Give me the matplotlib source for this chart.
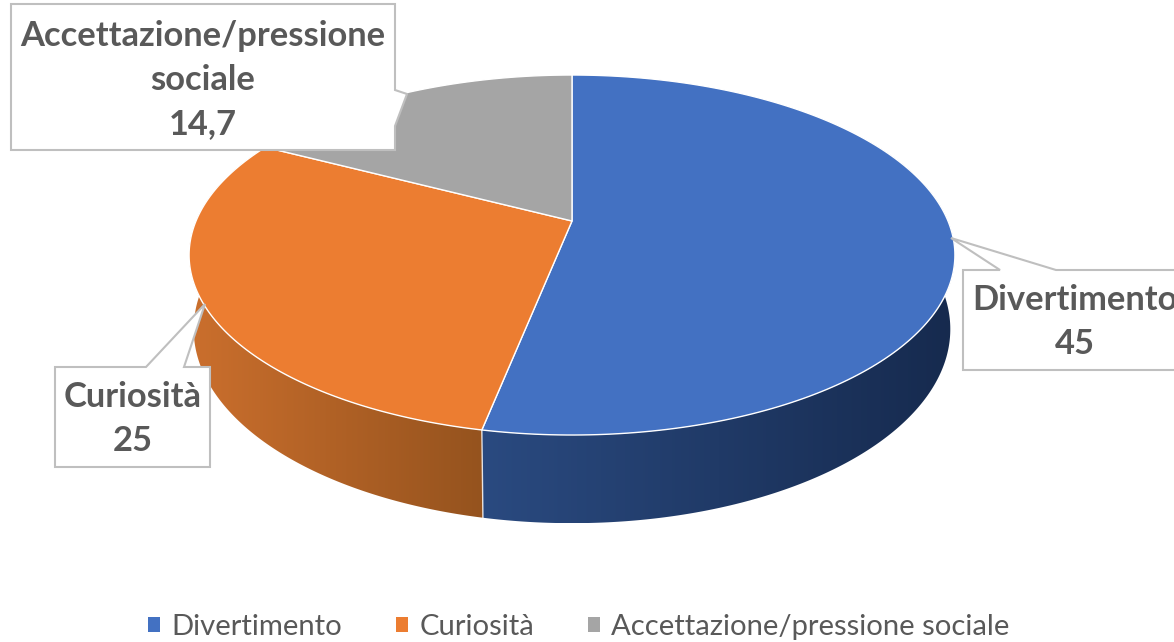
import numpy as np
import matplotlib
matplotlib.use("Agg")
import matplotlib.pyplot as plt
from matplotlib.colors import LinearSegmentedColormap
from matplotlib.patches import Patch, Polygon

categories = ["Divertimento", "Curiosità", "Accettazione/pressione sociale"]
values = [45, 25, 14.7]
value_labels = ["45", "25", "14,7"]
callout_labels = ["Divertimento", "Curiosità", "Accettazione/pressione\nsociale"]
colors = ["#4371C2", "#EC7D31", "#A5A5A5"]
side_left = ["#2A4A80", "#CB6F2D", "#A5A5A5"]
side_right = ["#162A4E", "#95531E", "#A5A5A5"]

# pie geometry in picture pixels (perspective disc)
CX, CY = 572, 221
K = 376
A, C = -131.8, 0.189
DEPTH = 71.5
TEXT = "#595959"
BORDER = "#BFBFBF"


def project(theta, r=1.0, drop=0.0):
    # theta is clockwise from 12 o'clock, drop pushes to the underside of the disc
    u = r * np.sin(theta)
    v = r * np.cos(theta)
    w = 1 + C * v
    return CX + K * u / w * (1 - 0.012 * drop), (A * v + CY) / w + DEPTH * drop / w


fig = plt.figure(figsize=(11.74, 6.42), dpi=100)
ax = fig.add_axes([0, 0, 1, 1])
ax.axis("off")

edges = np.deg2rad(np.concatenate([[0], np.cumsum(values) / np.sum(values) * 360]))

# side wall: a gradient image clipped to the wall outline. The range goes past
# 90..270 deg because the perspective moves the silhouette up; the top face hides the rest
for i in range(len(values) - 1):
    lo, hi = max(edges[i], np.deg2rad(60)), min(edges[i + 1], np.deg2rad(300))
    t = np.linspace(lo, hi, 300)
    x0, y0 = project(t)
    x1, y1 = project(t, drop=1.0)
    outline = np.column_stack([np.r_[x0, x1[::-1]], np.r_[y0, y1[::-1]]])
    wall = Polygon(outline, closed=True, transform=ax.transData, facecolor="none", edgecolor="none")
    ax.add_patch(wall)
    cmap = LinearSegmentedColormap.from_list("wall", [side_left[i], side_right[i]])
    grad = np.linspace(0, 1, 256)[None, :]
    im = ax.imshow(grad, cmap=cmap, aspect="auto", zorder=1,
                   extent=(outline[:, 0].min(), outline[:, 0].max(), outline[:, 1].max(), outline[:, 1].min()))
    im.set_clip_path(wall)

ax.set_xlim(0, 1174)
ax.set_ylim(642, 0)

# seam between the two visible walls
sx0, sy0 = project(edges[1])
sx1, sy1 = project(edges[1], drop=1.0)
ax.plot([sx0, sx1], [sy0, sy1], color="white", lw=1.0, alpha=0.8, zorder=2)

# top face
for i in range(len(values)):
    t = np.linspace(edges[i], edges[i + 1], 200)
    x, y = project(t)
    pts = np.column_stack([np.r_[CX, x], np.r_[CY, y]])
    ax.add_patch(Polygon(pts, closed=True, facecolor=colors[i], edgecolor="white", lw=1.0, zorder=3))

# data callouts, box outline includes the leader wedge
callouts = [
    ([(963, 270), (1000, 270), (951, 238), (1056, 270), (1180, 270), (1180, 370), (963, 370)], 1075, 322, 0),
    ([(55, 367), (146, 367), (205, 304), (184, 367), (210, 367), (210, 467), (55, 467)], 133, 419, 1),
    ([(11, 4), (395, 4), (395, 90), (407, 94), (395, 126), (395, 150), (11, 150)], 203, 80, 2),
]
for pts, tx, ty, i in callouts:
    ax.add_patch(Polygon(pts, closed=True, facecolor="white", edgecolor=BORDER, lw=1.5, zorder=4))
    ax.text(tx, ty, f"{callout_labels[i]}\n{value_labels[i]}", ha="center", va="center", fontsize=24.8,
            fontweight="bold", family="Lato", color=TEXT, linespacing=1.46, zorder=5)

handles = [Patch(facecolor=c, edgecolor="none") for c in colors]
ax.legend(handles, categories, loc="center", bbox_to_anchor=(0.4932, 0.023), ncol=3, frameon=False,
          prop={"family": "Lato", "size": 21.1}, labelcolor=TEXT, handlelength=0.41, handleheight=0.41,
          handletextpad=0.38, columnspacing=1.84, borderpad=0, borderaxespad=0)

fig.savefig("out.png", dpi=100, facecolor="white")
